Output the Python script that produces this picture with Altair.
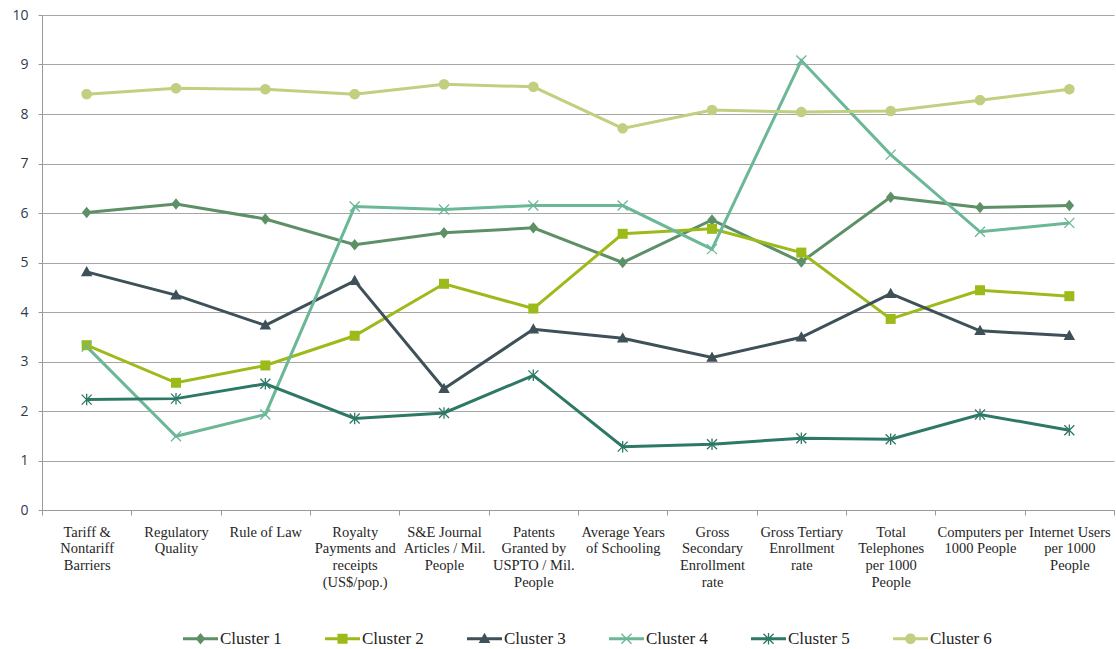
import math
import altair as alt
import pandas as pd

# ---------------- data ----------------
categories = [
    "Tariff &\nNontariff\nBarriers",
    "Regulatory\nQuality",
    "Rule of Law",
    "Royalty\nPayments and\nreceipts\n(US$/pop.)",
    "S&E Journal\nArticles / Mil.\nPeople",
    "Patents\nGranted by\nUSPTO / Mil.\nPeople",
    "Average Years\nof Schooling",
    "Gross\nSecondary\nEnrollment\nrate",
    "Gross Tertiary\nEnrollment\nrate",
    "Total\nTelephones\nper 1000\nPeople",
    "Computers per\n1000 People",
    "Internet Users\nper 1000\nPeople",
]
clusters = ["Cluster 1", "Cluster 2", "Cluster 3", "Cluster 4", "Cluster 5", "Cluster 6"]
cluster1 = [6.01, 6.18, 5.88, 5.36, 5.60, 5.70, 5.00, 5.86, 5.01, 6.32, 6.11, 6.15]
cluster2 = [3.33, 2.57, 2.92, 3.52, 4.57, 4.07, 5.58, 5.68, 5.20, 3.86, 4.44, 4.32]
cluster3 = [4.81, 4.34, 3.73, 4.63, 2.45, 3.65, 3.47, 3.08, 3.49, 4.37, 3.62, 3.52]
cluster4 = [3.30, 1.49, 1.93, 6.13, 6.07, 6.15, 6.15, 5.27, 9.08, 7.18, 5.62, 5.80]
cluster5 = [2.23, 2.25, 2.55, 1.85, 1.96, 2.72, 1.28, 1.33, 1.45, 1.43, 1.93, 1.61]
cluster6 = [8.40, 8.52, 8.50, 8.40, 8.60, 8.55, 7.71, 8.08, 8.04, 8.06, 8.28, 8.50]
colors = ["#5E9068", "#9CBB1B", "#3E5058", "#6BB796", "#2E7866", "#C2CF80"]

rows = []
for name, vals in zip(clusters, [cluster1, cluster2, cluster3, cluster4, cluster5, cluster6]):
    for cat, v in zip(categories, vals):
        rows.append({"category": cat, "cluster": name, "value": v})
df = pd.DataFrame(rows)

# ---------------- marker shapes (filled polygons, all clockwise) ----------------
def cw(pts):
    n = len(pts)
    area = sum(pts[i][0] * pts[(i + 1) % n][1] - pts[(i + 1) % n][0] * pts[i][1] for i in range(n))
    return pts if area > 0 else pts[::-1]

def fmt(pts):
    pts = cw(pts)
    return "M" + "L".join(f"{x:.3f},{y:.3f}" for x, y in pts) + "Z"

def bar(p0, p1, h):
    dx, dy = p1[0] - p0[0], p1[1] - p0[1]
    L = math.hypot(dx, dy)
    nx, ny = -dy / L * h, dx / L * h
    return [(p0[0] + nx, p0[1] + ny), (p1[0] + nx, p1[1] + ny),
            (p1[0] - nx, p1[1] - ny), (p0[0] - nx, p0[1] - ny)]

def circle(r, n=32):
    return [(r * math.cos(2 * math.pi * i / n), r * math.sin(2 * math.pi * i / n)) for i in range(n)]

t = 0.13
markers = [
    [[(0, -1.15), (0.95, 0), (0, 1.15), (-0.95, 0)]],
    [[(-1, -1), (1, -1), (1, 1), (-1, 1)]],
    [[(0, -1.2), (1.15, 0.85), (-1.15, 0.85)]],
    [bar((-1, -1), (1, 1), t), bar((-1, 1), (1, -1), t)],
    [bar((-1, -1), (1, 1), t), bar((-1, 1), (1, -1), t), bar((0, -1.15), (0, 1.15), t)],
    [circle(1.05)],
]

def scaled(poly, s):
    return [(x * s, y * s) for x, y in poly]

plot_paths = ["".join(fmt(p) for p in m) for m in markers]
line_h = 0.086
legend_paths = [
    fmt([(-1, -line_h), (1, -line_h), (1, line_h), (-1, line_h)]) + "".join(fmt(scaled(p, 0.29)) for p in m)
    for m in markers
]

# ---------------- encodings ----------------
x_enc = alt.X(
    "category:N",
    sort=categories,
    scale=alt.Scale(type="band", paddingInner=0, paddingOuter=0),
    bandPosition=0.5,
    axis=alt.Axis(
        title=None, labelAngle=0, tickBand="extent", ticks=True, tickSize=5,
        tickColor="#9A9A9A", domainColor="#9A9A9A", grid=False,
        labelExpr="split(datum.label, '\\n')", labelFont="Liberation Serif",
        labelFontSize=14.5, labelLineHeight=16.8, labelColor="#262626",
        labelPadding=10, labelBaseline="top", labelLimit=200,
    ),
)
y_enc = alt.Y(
    "value:Q",
    scale=alt.Scale(domain=[0, 10], nice=False),
    axis=alt.Axis(
        title=None, values=list(range(11)), grid=True, gridColor="#A6A6A6",
        gridWidth=1, domainColor="#9A9A9A", tickColor="#9A9A9A", tickSize=4,
        labelFont="Open Sans", labelFontSize=14, labelColor="#2F3B4C",
        labelPadding=10,
    ),
)

def color_enc(legend=None):
    if legend is None:
        return alt.Color("cluster:N", scale=alt.Scale(domain=clusters, range=colors), legend=None)
    return alt.Color("cluster:N", scale=alt.Scale(domain=clusters, range=colors), legend=legend)

leg = alt.Legend(
    title=None, orient="none", legendX=141, legendY=606, direction="horizontal",
    columns=6, symbolSize=1225, symbolStrokeWidth=0, symbolOpacity=1,
    labelFont="Liberation Serif", labelFontSize=17, labelColor="#222222",
    labelOffset=2, columnPadding=43, padding=0,
)

lines = alt.Chart(df).mark_line(strokeWidth=3).encode(x=x_enc, y=y_enc, color=color_enc())

points = alt.Chart(df).mark_point(filled=True, size=100, opacity=1, strokeWidth=0).encode(
    x=x_enc, y=y_enc, color=color_enc(),
    shape=alt.Shape("cluster:N", scale=alt.Scale(domain=clusters, range=plot_paths), legend=None),
)

legend_layer = alt.Chart(df).transform_filter("false").mark_point(
    filled=True, opacity=1, strokeWidth=0
).encode(
    x=x_enc, y=y_enc, color=color_enc(leg),
    shape=alt.Shape("cluster:N", scale=alt.Scale(domain=clusters, range=legend_paths), legend=leg),
)

chart = (
    alt.layer(lines, points, legend_layer)
    .resolve_scale(color="independent", shape="independent")
    .properties(
        width=1072, height=495,
        padding={"left": 42, "top": 15, "right": 2, "bottom": 139},
        autosize=alt.AutoSizeParams(type="none"),
        background="white",
    )
    .configure_view(stroke=None)
)

chart.save("out.html", embed_options={"renderer": "svg", "actions": False})
